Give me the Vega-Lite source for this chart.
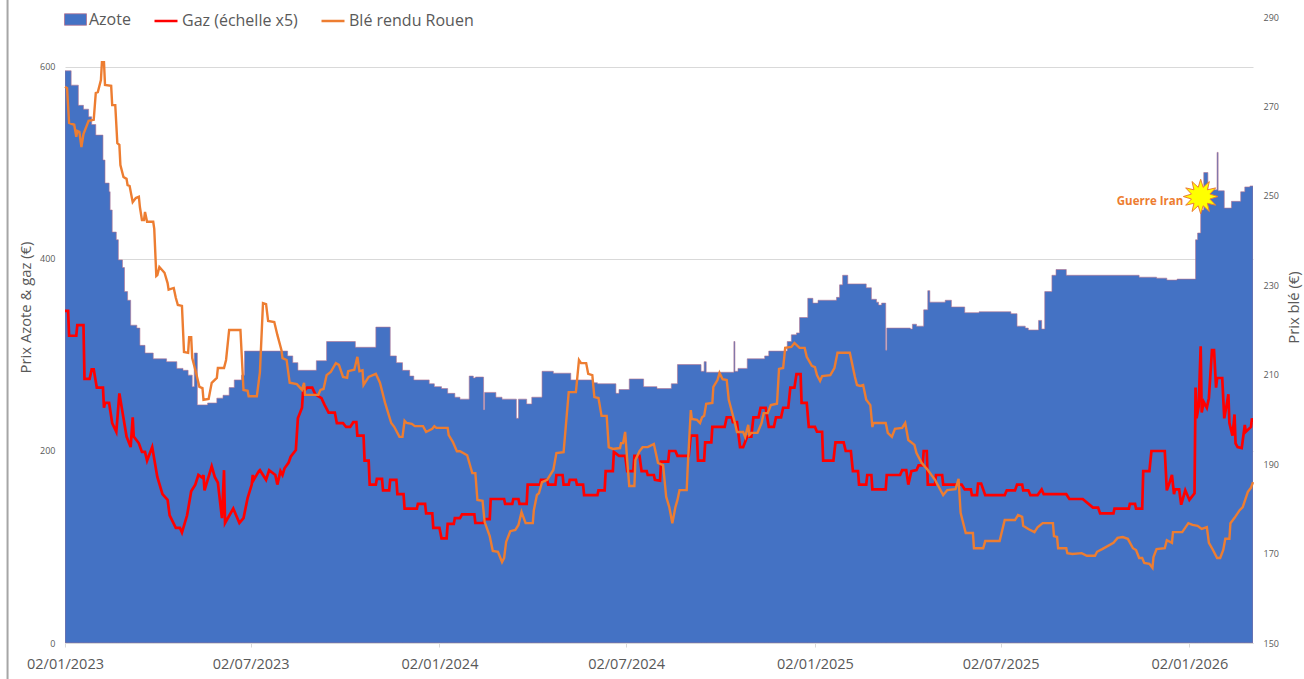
{"$schema":"https://vega.github.io/schema/vega-lite/v6.json","width":1188,"height":626,"autosize":"none","padding":{"left":65,"top":17,"right":51,"bottom":36},"background":"white","config":{"view":{"stroke":null},"font":"Open Sans"},
"datasets":{
"azote":[{"d":"2023-01-02","v":596},{"d":"2023-01-08","v":581},{"d":"2023-01-15","v":560},{"d":"2023-01-20","v":556},{"d":"2023-01-25","v":548},{"d":"2023-01-28","v":540},{"d":"2023-02-01","v":529},{"d":"2023-02-08","v":503},{"d":"2023-02-10","v":479},{"d":"2023-02-14","v":470},{"d":"2023-02-15","v":451},{"d":"2023-02-17","v":428},{"d":"2023-02-21","v":420},{"d":"2023-02-23","v":399},{"d":"2023-02-27","v":391},{"d":"2023-03-01","v":366},{"d":"2023-03-04","v":357},{"d":"2023-03-07","v":331},{"d":"2023-03-13","v":328},{"d":"2023-03-16","v":310},{"d":"2023-03-21","v":302},{"d":"2023-03-29","v":296},{"d":"2023-04-11","v":293},{"d":"2023-04-21","v":286},{"d":"2023-04-27","v":284},{"d":"2023-05-02","v":279},{"d":"2023-05-06","v":267},{"d":"2023-05-08","v":302},{"d":"2023-05-11","v":248},{"d":"2023-05-21","v":250},{"d":"2023-05-30","v":255},{"d":"2023-06-05","v":258},{"d":"2023-06-11","v":266},{"d":"2023-06-16","v":274},{"d":"2023-06-23","v":279},{"d":"2023-06-26","v":304},{"d":"2023-08-07","v":299},{"d":"2023-08-12","v":292},{"d":"2023-08-17","v":284},{"d":"2023-09-04","v":294},{"d":"2023-09-14","v":314},{"d":"2023-10-12","v":308},{"d":"2023-11-01","v":329},{"d":"2023-11-15","v":299},{"d":"2023-11-21","v":292},{"d":"2023-11-27","v":284},{"d":"2023-12-04","v":278},{"d":"2023-12-08","v":274},{"d":"2023-12-23","v":270},{"d":"2023-12-28","v":267},{"d":"2024-01-04","v":265},{"d":"2024-01-10","v":260},{"d":"2024-01-17","v":256},{"d":"2024-01-22","v":254},{"d":"2024-01-31","v":278},{"d":"2024-02-04","v":276},{"d":"2024-02-06","v":277},{"d":"2024-02-14","v":243},{"d":"2024-02-15","v":261},{"d":"2024-02-26","v":256},{"d":"2024-03-03","v":254},{"d":"2024-03-17","v":234},{"d":"2024-03-19","v":254},{"d":"2024-03-27","v":249},{"d":"2024-04-01","v":256},{"d":"2024-04-11","v":283},{"d":"2024-04-22","v":281},{"d":"2024-05-09","v":274},{"d":"2024-05-31","v":271},{"d":"2024-06-04","v":270},{"d":"2024-06-22","v":260},{"d":"2024-06-25","v":264},{"d":"2024-07-05","v":275},{"d":"2024-07-19","v":267},{"d":"2024-08-01","v":265},{"d":"2024-08-15","v":270},{"d":"2024-08-21","v":290},{"d":"2024-09-13","v":283},{"d":"2024-09-16","v":293},{"d":"2024-09-18","v":282},{"d":"2024-10-15","v":314},{"d":"2024-10-16","v":283},{"d":"2024-10-19","v":286},{"d":"2024-10-28","v":296},{"d":"2024-11-14","v":299},{"d":"2024-11-18","v":304},{"d":"2024-12-06","v":314},{"d":"2024-12-10","v":321},{"d":"2024-12-15","v":323},{"d":"2024-12-18","v":339},{"d":"2024-12-26","v":359},{"d":"2024-12-31","v":354},{"d":"2025-01-05","v":357},{"d":"2025-01-23","v":360},{"d":"2025-01-26","v":373},{"d":"2025-01-29","v":383},{"d":"2025-02-03","v":374},{"d":"2025-02-21","v":370},{"d":"2025-02-26","v":358},{"d":"2025-03-03","v":355},{"d":"2025-03-05","v":352},{"d":"2025-03-08","v":354},{"d":"2025-03-12","v":305},{"d":"2025-03-13","v":328},{"d":"2025-04-05","v":327},{"d":"2025-04-07","v":332},{"d":"2025-04-11","v":330},{"d":"2025-04-18","v":347},{"d":"2025-04-22","v":367},{"d":"2025-04-24","v":355},{"d":"2025-05-09","v":357},{"d":"2025-05-15","v":350},{"d":"2025-05-28","v":344},{"d":"2025-06-11","v":345},{"d":"2025-07-12","v":343},{"d":"2025-07-18","v":330},{"d":"2025-07-26","v":328},{"d":"2025-07-29","v":326},{"d":"2025-08-08","v":336},{"d":"2025-08-11","v":327},{"d":"2025-08-14","v":366},{"d":"2025-08-21","v":383},{"d":"2025-08-25","v":389},{"d":"2025-09-04","v":383},{"d":"2025-11-14","v":381},{"d":"2025-12-01","v":380},{"d":"2025-12-11","v":378},{"d":"2025-12-21","v":379},{"d":"2026-01-08","v":420},{"d":"2026-01-10","v":427},{"d":"2026-01-13","v":451},{"d":"2026-01-16","v":490},{"d":"2026-01-20","v":472},{"d":"2026-01-29","v":511},{"d":"2026-01-30","v":471},{"d":"2026-02-05","v":453},{"d":"2026-02-12","v":460},{"d":"2026-02-21","v":470},{"d":"2026-02-25","v":475},{"d":"2026-03-02","v":476},{"d":"2026-03-05","v":476}],
"gaz":[{"d":"2023-01-02","v":346},{"d":"2023-01-05","v":346},{"d":"2023-01-06","v":320},{"d":"2023-01-13","v":320},{"d":"2023-01-14","v":331},{"d":"2023-01-20","v":331},{"d":"2023-01-21","v":275},{"d":"2023-01-26","v":275},{"d":"2023-01-28","v":285},{"d":"2023-01-30","v":285},{"d":"2023-02-02","v":266},{"d":"2023-02-08","v":266},{"d":"2023-02-09","v":245},{"d":"2023-02-10","v":250},{"d":"2023-02-14","v":250},{"d":"2023-02-17","v":229},{"d":"2023-02-21","v":220},{"d":"2023-02-24","v":260},{"d":"2023-03-03","v":215},{"d":"2023-03-07","v":204},{"d":"2023-03-09","v":235},{"d":"2023-03-10","v":215},{"d":"2023-03-15","v":208},{"d":"2023-03-18","v":199},{"d":"2023-03-21","v":199},{"d":"2023-03-23","v":190},{"d":"2023-03-28","v":204},{"d":"2023-04-02","v":173},{"d":"2023-04-07","v":155},{"d":"2023-04-12","v":149},{"d":"2023-04-14","v":133},{"d":"2023-04-20","v":120},{"d":"2023-04-24","v":120},{"d":"2023-04-26","v":115},{"d":"2023-05-01","v":133},{"d":"2023-05-05","v":158},{"d":"2023-05-09","v":165},{"d":"2023-05-12","v":175},{"d":"2023-05-16","v":172},{"d":"2023-05-17","v":175},{"d":"2023-05-18","v":159},{"d":"2023-05-25","v":184},{"d":"2023-05-28","v":173},{"d":"2023-05-31","v":167},{"d":"2023-06-04","v":130},{"d":"2023-06-06","v":180},{"d":"2023-06-07","v":125},{"d":"2023-06-15","v":140},{"d":"2023-06-21","v":125},{"d":"2023-06-25","v":130},{"d":"2023-06-29","v":151},{"d":"2023-07-03","v":165},{"d":"2023-07-04","v":175},{"d":"2023-07-05","v":170},{"d":"2023-07-10","v":179},{"d":"2023-07-11","v":180},{"d":"2023-07-17","v":170},{"d":"2023-07-20","v":180},{"d":"2023-07-26","v":175},{"d":"2023-07-28","v":165},{"d":"2023-07-31","v":179},{"d":"2023-08-02","v":175},{"d":"2023-08-04","v":182},{"d":"2023-08-08","v":188},{"d":"2023-08-10","v":194},{"d":"2023-08-15","v":201},{"d":"2023-08-17","v":234},{"d":"2023-08-21","v":245},{"d":"2023-08-22","v":261},{"d":"2023-08-26","v":266},{"d":"2023-08-31","v":266},{"d":"2023-09-03","v":259},{"d":"2023-09-09","v":255},{"d":"2023-09-12","v":248},{"d":"2023-09-16","v":240},{"d":"2023-09-22","v":240},{"d":"2023-09-24","v":229},{"d":"2023-09-30","v":229},{"d":"2023-10-03","v":225},{"d":"2023-10-07","v":225},{"d":"2023-10-10","v":230},{"d":"2023-10-13","v":230},{"d":"2023-10-14","v":216},{"d":"2023-10-20","v":216},{"d":"2023-10-21","v":190},{"d":"2023-10-25","v":190},{"d":"2023-10-26","v":165},{"d":"2023-11-01","v":165},{"d":"2023-11-02","v":171},{"d":"2023-11-07","v":171},{"d":"2023-11-08","v":159},{"d":"2023-11-14","v":159},{"d":"2023-11-15","v":170},{"d":"2023-11-21","v":170},{"d":"2023-11-22","v":155},{"d":"2023-11-28","v":155},{"d":"2023-11-29","v":140},{"d":"2023-12-11","v":140},{"d":"2023-12-12","v":145},{"d":"2023-12-19","v":145},{"d":"2023-12-20","v":135},{"d":"2023-12-26","v":135},{"d":"2023-12-27","v":120},{"d":"2024-01-02","v":120},{"d":"2024-01-04","v":109},{"d":"2024-01-09","v":109},{"d":"2024-01-10","v":124},{"d":"2024-01-16","v":124},{"d":"2024-01-17","v":130},{"d":"2024-01-22","v":130},{"d":"2024-01-24","v":134},{"d":"2024-02-05","v":134},{"d":"2024-02-06","v":125},{"d":"2024-02-14","v":125},{"d":"2024-02-15","v":129},{"d":"2024-02-20","v":129},{"d":"2024-02-21","v":150},{"d":"2024-03-05","v":150},{"d":"2024-03-06","v":145},{"d":"2024-03-13","v":145},{"d":"2024-03-14","v":150},{"d":"2024-03-19","v":150},{"d":"2024-03-20","v":145},{"d":"2024-03-27","v":145},{"d":"2024-03-28","v":165},{"d":"2024-04-09","v":165},{"d":"2024-04-10","v":170},{"d":"2024-04-16","v":170},{"d":"2024-04-17","v":165},{"d":"2024-04-24","v":165},{"d":"2024-04-25","v":175},{"d":"2024-05-01","v":175},{"d":"2024-05-02","v":165},{"d":"2024-05-07","v":165},{"d":"2024-05-08","v":170},{"d":"2024-05-14","v":170},{"d":"2024-05-15","v":165},{"d":"2024-05-21","v":165},{"d":"2024-05-22","v":154},{"d":"2024-06-04","v":154},{"d":"2024-06-05","v":159},{"d":"2024-06-11","v":159},{"d":"2024-06-12","v":179},{"d":"2024-06-19","v":179},{"d":"2024-06-20","v":199},{"d":"2024-06-25","v":195},{"d":"2024-07-01","v":195},{"d":"2024-07-03","v":179},{"d":"2024-07-09","v":179},{"d":"2024-07-10","v":195},{"d":"2024-07-15","v":195},{"d":"2024-07-17","v":179},{"d":"2024-07-22","v":179},{"d":"2024-07-23","v":175},{"d":"2024-07-29","v":175},{"d":"2024-07-30","v":170},{"d":"2024-08-04","v":169},{"d":"2024-08-05","v":189},{"d":"2024-08-12","v":189},{"d":"2024-08-13","v":200},{"d":"2024-08-19","v":200},{"d":"2024-08-21","v":195},{"d":"2024-09-01","v":195},{"d":"2024-09-03","v":216},{"d":"2024-09-09","v":216},{"d":"2024-09-10","v":190},{"d":"2024-09-16","v":190},{"d":"2024-09-17","v":209},{"d":"2024-09-23","v":209},{"d":"2024-09-24","v":225},{"d":"2024-10-06","v":225},{"d":"2024-10-08","v":235},{"d":"2024-10-13","v":235},{"d":"2024-10-14","v":230},{"d":"2024-10-18","v":230},{"d":"2024-10-21","v":204},{"d":"2024-10-24","v":204},{"d":"2024-10-28","v":215},{"d":"2024-11-01","v":215},{"d":"2024-11-03","v":235},{"d":"2024-11-08","v":235},{"d":"2024-11-10","v":245},{"d":"2024-11-15","v":245},{"d":"2024-11-18","v":225},{"d":"2024-11-23","v":225},{"d":"2024-11-25","v":235},{"d":"2024-11-30","v":235},{"d":"2024-12-02","v":245},{"d":"2024-12-07","v":245},{"d":"2024-12-09","v":266},{"d":"2024-12-13","v":266},{"d":"2024-12-15","v":280},{"d":"2024-12-19","v":280},{"d":"2024-12-20","v":250},{"d":"2024-12-25","v":250},{"d":"2024-12-27","v":225},{"d":"2025-01-02","v":225},{"d":"2025-01-04","v":220},{"d":"2025-01-09","v":220},{"d":"2025-01-10","v":190},{"d":"2025-01-20","v":190},{"d":"2025-01-22","v":209},{"d":"2025-01-30","v":209},{"d":"2025-02-01","v":200},{"d":"2025-02-06","v":200},{"d":"2025-02-08","v":179},{"d":"2025-02-13","v":179},{"d":"2025-02-14","v":165},{"d":"2025-02-21","v":165},{"d":"2025-02-22","v":175},{"d":"2025-02-26","v":175},{"d":"2025-02-27","v":160},{"d":"2025-03-12","v":160},{"d":"2025-03-13","v":175},{"d":"2025-03-26","v":175},{"d":"2025-03-28","v":180},{"d":"2025-04-01","v":180},{"d":"2025-04-03","v":165},{"d":"2025-04-06","v":179},{"d":"2025-04-11","v":180},{"d":"2025-04-13","v":185},{"d":"2025-04-17","v":185},{"d":"2025-04-18","v":200},{"d":"2025-04-21","v":200},{"d":"2025-04-22","v":165},{"d":"2025-04-29","v":165},{"d":"2025-04-30","v":175},{"d":"2025-05-06","v":175},{"d":"2025-05-07","v":165},{"d":"2025-05-25","v":165},{"d":"2025-05-28","v":160},{"d":"2025-06-03","v":160},{"d":"2025-06-04","v":154},{"d":"2025-06-09","v":154},{"d":"2025-06-10","v":166},{"d":"2025-06-13","v":166},{"d":"2025-06-17","v":154},{"d":"2025-07-06","v":154},{"d":"2025-07-08","v":159},{"d":"2025-07-16","v":159},{"d":"2025-07-18","v":165},{"d":"2025-07-23","v":165},{"d":"2025-07-24","v":159},{"d":"2025-07-29","v":159},{"d":"2025-07-31","v":154},{"d":"2025-08-07","v":154},{"d":"2025-08-11","v":160},{"d":"2025-08-13","v":155},{"d":"2025-09-04","v":155},{"d":"2025-09-07","v":150},{"d":"2025-09-20","v":150},{"d":"2025-09-30","v":141},{"d":"2025-10-05","v":141},{"d":"2025-10-07","v":135},{"d":"2025-10-20","v":135},{"d":"2025-10-21","v":140},{"d":"2025-11-04","v":140},{"d":"2025-11-05","v":145},{"d":"2025-11-10","v":145},{"d":"2025-11-11","v":140},{"d":"2025-11-17","v":140},{"d":"2025-11-18","v":179},{"d":"2025-11-24","v":179},{"d":"2025-11-26","v":200},{"d":"2025-12-09","v":200},{"d":"2025-12-11","v":159},{"d":"2025-12-13","v":165},{"d":"2025-12-16","v":175},{"d":"2025-12-18","v":155},{"d":"2025-12-19","v":160},{"d":"2025-12-23","v":160},{"d":"2025-12-25","v":144},{"d":"2025-12-29","v":159},{"d":"2026-01-02","v":149},{"d":"2026-01-07","v":156},{"d":"2026-01-08","v":266},{"d":"2026-01-09","v":234},{"d":"2026-01-11","v":246},{"d":"2026-01-13","v":309},{"d":"2026-01-14","v":240},{"d":"2026-01-16","v":251},{"d":"2026-01-19","v":245},{"d":"2026-01-21","v":255},{"d":"2026-01-24","v":305},{"d":"2026-01-26","v":305},{"d":"2026-01-28","v":266},{"d":"2026-01-29","v":276},{"d":"2026-02-03","v":276},{"d":"2026-02-05","v":234},{"d":"2026-02-07","v":246},{"d":"2026-02-09","v":259},{"d":"2026-02-10","v":229},{"d":"2026-02-13","v":216},{"d":"2026-02-15","v":238},{"d":"2026-02-16","v":208},{"d":"2026-02-18","v":204},{"d":"2026-02-22","v":203},{"d":"2026-02-25","v":227},{"d":"2026-02-26","v":220},{"d":"2026-03-03","v":225},{"d":"2026-03-04","v":234},{"d":"2026-03-05","v":230}],
"ble":[{"d":"2023-01-02","v":274.4},{"d":"2023-01-04","v":274.1},{"d":"2023-01-06","v":266.3},{"d":"2023-01-11","v":265.9},{"d":"2023-01-13","v":263.2},{"d":"2023-01-14","v":264.5},{"d":"2023-01-16","v":264.3},{"d":"2023-01-18","v":260.9},{"d":"2023-01-20","v":263.8},{"d":"2023-01-25","v":266.8},{"d":"2023-01-30","v":267},{"d":"2023-02-01","v":273},{"d":"2023-02-03","v":273.2},{"d":"2023-02-06","v":275.9},{"d":"2023-02-07","v":279.9},{"d":"2023-02-09","v":279.9},{"d":"2023-02-10","v":274.8},{"d":"2023-02-16","v":274.6},{"d":"2023-02-17","v":270.3},{"d":"2023-02-20","v":270.3},{"d":"2023-02-22","v":261.8},{"d":"2023-02-24","v":261.4},{"d":"2023-02-25","v":256.9},{"d":"2023-02-28","v":254.2},{"d":"2023-03-03","v":253.8},{"d":"2023-03-04","v":252.4},{"d":"2023-03-06","v":252.2},{"d":"2023-03-09","v":248.6},{"d":"2023-03-12","v":249.5},{"d":"2023-03-15","v":249.8},{"d":"2023-03-16","v":247.5},{"d":"2023-03-18","v":244.6},{"d":"2023-03-20","v":244.6},{"d":"2023-03-21","v":246.4},{"d":"2023-03-23","v":244.2},{"d":"2023-03-29","v":244.2},{"d":"2023-03-30","v":242.6},{"d":"2023-04-01","v":232.1},{"d":"2023-04-02","v":232.3},{"d":"2023-04-04","v":234.1},{"d":"2023-04-09","v":232.8},{"d":"2023-04-12","v":230.5},{"d":"2023-04-13","v":229},{"d":"2023-04-18","v":229.4},{"d":"2023-04-20","v":227.2},{"d":"2023-04-22","v":225.6},{"d":"2023-04-26","v":225.4},{"d":"2023-04-28","v":215.1},{"d":"2023-05-02","v":214.9},{"d":"2023-05-03","v":218.4},{"d":"2023-05-05","v":218.4},{"d":"2023-05-06","v":213.7},{"d":"2023-05-09","v":211.1},{"d":"2023-05-13","v":207.3},{"d":"2023-05-16","v":207},{"d":"2023-05-17","v":204.4},{"d":"2023-05-22","v":204.6},{"d":"2023-05-25","v":208.2},{"d":"2023-05-30","v":209.3},{"d":"2023-05-31","v":211.5},{"d":"2023-06-06","v":211.5},{"d":"2023-06-08","v":213.3},{"d":"2023-06-11","v":220},{"d":"2023-06-22","v":220},{"d":"2023-06-25","v":206.6},{"d":"2023-06-29","v":206.4},{"d":"2023-06-30","v":205.2},{"d":"2023-07-08","v":205.2},{"d":"2023-07-11","v":210.6},{"d":"2023-07-14","v":226},{"d":"2023-07-17","v":225.8},{"d":"2023-07-19","v":222},{"d":"2023-07-25","v":221.8},{"d":"2023-07-28","v":218.9},{"d":"2023-08-01","v":215.5},{"d":"2023-08-02","v":213.7},{"d":"2023-08-06","v":213.3},{"d":"2023-08-09","v":208.2},{"d":"2023-08-16","v":207.9},{"d":"2023-08-21","v":206.6},{"d":"2023-08-23","v":208.2},{"d":"2023-08-24","v":205.5},{"d":"2023-09-06","v":205.5},{"d":"2023-09-08","v":206.6},{"d":"2023-09-11","v":206.8},{"d":"2023-09-14","v":209.9},{"d":"2023-09-18","v":210.6},{"d":"2023-09-23","v":212.6},{"d":"2023-09-26","v":212.2},{"d":"2023-09-30","v":209.5},{"d":"2023-10-04","v":209.3},{"d":"2023-10-05","v":210.8},{"d":"2023-10-11","v":211.1},{"d":"2023-10-14","v":214},{"d":"2023-10-16","v":210.8},{"d":"2023-10-19","v":211},{"d":"2023-10-20","v":207.7},{"d":"2023-10-25","v":209.5},{"d":"2023-11-01","v":210.2},{"d":"2023-11-05","v":208.2},{"d":"2023-11-10","v":203.7},{"d":"2023-11-16","v":199.2},{"d":"2023-11-19","v":198.3},{"d":"2023-11-24","v":196.1},{"d":"2023-11-27","v":196.1},{"d":"2023-11-29","v":199.7},{"d":"2023-12-01","v":199.2},{"d":"2023-12-06","v":199},{"d":"2023-12-09","v":198.5},{"d":"2023-12-17","v":198.5},{"d":"2023-12-20","v":197.2},{"d":"2023-12-26","v":197.9},{"d":"2023-12-28","v":198.5},{"d":"2023-12-30","v":198.1},{"d":"2024-01-10","v":198.1},{"d":"2024-01-11","v":196.5},{"d":"2024-01-15","v":195},{"d":"2024-01-19","v":192.9},{"d":"2024-01-22","v":192.9},{"d":"2024-01-29","v":192},{"d":"2024-02-03","v":188},{"d":"2024-02-06","v":188},{"d":"2024-02-08","v":182},{"d":"2024-02-13","v":181.8},{"d":"2024-02-15","v":177.1},{"d":"2024-02-20","v":173.9},{"d":"2024-02-23","v":170.6},{"d":"2024-02-28","v":170.4},{"d":"2024-03-03","v":168.1},{"d":"2024-03-05","v":169},{"d":"2024-03-07","v":172.6},{"d":"2024-03-11","v":175},{"d":"2024-03-16","v":175.3},{"d":"2024-03-19","v":176.4},{"d":"2024-03-22","v":179.3},{"d":"2024-03-26","v":176.8},{"d":"2024-04-02","v":176.8},{"d":"2024-04-03","v":179.7},{"d":"2024-04-06","v":183.1},{"d":"2024-04-08","v":183.5},{"d":"2024-04-11","v":186},{"d":"2024-04-16","v":186.5},{"d":"2024-04-22","v":188.7},{"d":"2024-04-25","v":192.5},{"d":"2024-05-02","v":192.7},{"d":"2024-05-07","v":206.1},{"d":"2024-05-14","v":206.1},{"d":"2024-05-17","v":213.3},{"d":"2024-05-19","v":212.6},{"d":"2024-05-24","v":212.6},{"d":"2024-05-26","v":210.2},{"d":"2024-05-30","v":209.9},{"d":"2024-06-01","v":205},{"d":"2024-06-05","v":204.8},{"d":"2024-06-08","v":200.8},{"d":"2024-06-13","v":200.8},{"d":"2024-06-15","v":193.8},{"d":"2024-06-19","v":193.4},{"d":"2024-06-26","v":193.6},{"d":"2024-06-27","v":194.7},{"d":"2024-06-29","v":194.7},{"d":"2024-07-01","v":197.2},{"d":"2024-07-03","v":190.9},{"d":"2024-07-05","v":185.1},{"d":"2024-07-10","v":185.1},{"d":"2024-07-11","v":190.9},{"d":"2024-07-15","v":192.9},{"d":"2024-07-18","v":193.8},{"d":"2024-07-23","v":193.8},{"d":"2024-07-29","v":194.5},{"d":"2024-08-02","v":190.3},{"d":"2024-08-07","v":189.8},{"d":"2024-08-10","v":182.7},{"d":"2024-08-13","v":180.4},{"d":"2024-08-16","v":176.8},{"d":"2024-08-19","v":180.4},{"d":"2024-08-21","v":182},{"d":"2024-08-23","v":184.2},{"d":"2024-08-30","v":184.2},{"d":"2024-08-31","v":189.4},{"d":"2024-09-03","v":202.1},{"d":"2024-09-04","v":200.1},{"d":"2024-09-09","v":199.9},{"d":"2024-09-12","v":199.2},{"d":"2024-09-14","v":200.5},{"d":"2024-09-16","v":200.8},{"d":"2024-09-18","v":203.5},{"d":"2024-09-24","v":203.7},{"d":"2024-09-25","v":207.3},{"d":"2024-09-29","v":208.8},{"d":"2024-10-01","v":210.4},{"d":"2024-10-04","v":209},{"d":"2024-10-08","v":208.8},{"d":"2024-10-10","v":204.4},{"d":"2024-10-16","v":199.2},{"d":"2024-10-18","v":197.2},{"d":"2024-10-24","v":197.2},{"d":"2024-10-26","v":196.1},{"d":"2024-10-29","v":198.8},{"d":"2024-10-30","v":196.5},{"d":"2024-11-01","v":197},{"d":"2024-11-07","v":197},{"d":"2024-11-11","v":199.2},{"d":"2024-11-13","v":201.4},{"d":"2024-11-17","v":201.4},{"d":"2024-11-20","v":203.2},{"d":"2024-11-26","v":203.5},{"d":"2024-11-28","v":211.3},{"d":"2024-12-02","v":211.5},{"d":"2024-12-04","v":216},{"d":"2024-12-10","v":216.2},{"d":"2024-12-13","v":217.1},{"d":"2024-12-18","v":216},{"d":"2024-12-23","v":216},{"d":"2024-12-25","v":214},{"d":"2024-12-30","v":212},{"d":"2025-01-02","v":211.7},{"d":"2025-01-04","v":209.9},{"d":"2025-01-07","v":208.6},{"d":"2025-01-09","v":209.7},{"d":"2025-01-17","v":209.9},{"d":"2025-01-21","v":211.5},{"d":"2025-01-24","v":214.9},{"d":"2025-02-05","v":214.9},{"d":"2025-02-10","v":209.5},{"d":"2025-02-12","v":207.7},{"d":"2025-02-15","v":207.5},{"d":"2025-02-18","v":207.7},{"d":"2025-02-21","v":204.4},{"d":"2025-02-25","v":203.2},{"d":"2025-02-27","v":198.3},{"d":"2025-02-28","v":199.2},{"d":"2025-03-12","v":199.2},{"d":"2025-03-14","v":197},{"d":"2025-03-18","v":196.1},{"d":"2025-03-21","v":197.9},{"d":"2025-03-28","v":198.1},{"d":"2025-03-31","v":199.2},{"d":"2025-04-03","v":195.4},{"d":"2025-04-09","v":194.3},{"d":"2025-04-11","v":192.5},{"d":"2025-04-16","v":190.3},{"d":"2025-04-22","v":188.7},{"d":"2025-04-29","v":186.5},{"d":"2025-05-07","v":183.1},{"d":"2025-05-11","v":184.2},{"d":"2025-05-19","v":184.4},{"d":"2025-05-22","v":186.7},{"d":"2025-05-24","v":179.1},{"d":"2025-05-29","v":174.6},{"d":"2025-06-05","v":174.6},{"d":"2025-06-06","v":171.2},{"d":"2025-06-15","v":171.2},{"d":"2025-06-17","v":172.8},{"d":"2025-07-01","v":172.8},{"d":"2025-07-06","v":177.5},{"d":"2025-07-16","v":177.5},{"d":"2025-07-19","v":178.6},{"d":"2025-07-23","v":178.2},{"d":"2025-07-24","v":176.2},{"d":"2025-07-29","v":175.5},{"d":"2025-08-04","v":174.8},{"d":"2025-08-07","v":175.9},{"d":"2025-08-12","v":176.8},{"d":"2025-08-22","v":176.8},{"d":"2025-08-23","v":173.9},{"d":"2025-08-26","v":173.7},{"d":"2025-08-27","v":171.2},{"d":"2025-09-04","v":171.2},{"d":"2025-09-05","v":170.1},{"d":"2025-09-10","v":169.9},{"d":"2025-09-19","v":170.1},{"d":"2025-09-24","v":169.5},{"d":"2025-10-02","v":169.5},{"d":"2025-10-04","v":170.4},{"d":"2025-10-09","v":171},{"d":"2025-10-20","v":172.4},{"d":"2025-10-24","v":173.5},{"d":"2025-10-29","v":173.7},{"d":"2025-11-03","v":173.3},{"d":"2025-11-08","v":171.2},{"d":"2025-11-11","v":170.8},{"d":"2025-11-14","v":169},{"d":"2025-11-17","v":169},{"d":"2025-11-19","v":167.9},{"d":"2025-11-24","v":167.7},{"d":"2025-11-27","v":166.8},{"d":"2025-11-28","v":169.2},{"d":"2025-12-01","v":171},{"d":"2025-12-09","v":171.2},{"d":"2025-12-11","v":173},{"d":"2025-12-16","v":172.4},{"d":"2025-12-17","v":174.8},{"d":"2025-12-26","v":174.8},{"d":"2026-01-01","v":176.8},{"d":"2026-01-05","v":176.4},{"d":"2026-01-10","v":176.2},{"d":"2026-01-14","v":175.5},{"d":"2026-01-19","v":175.9},{"d":"2026-01-21","v":172.4},{"d":"2026-01-25","v":170.8},{"d":"2026-01-29","v":169},{"d":"2026-02-01","v":169},{"d":"2026-02-04","v":170.8},{"d":"2026-02-06","v":173.3},{"d":"2026-02-10","v":173.3},{"d":"2026-02-11","v":176.8},{"d":"2026-02-15","v":178},{"d":"2026-02-20","v":179.7},{"d":"2026-02-23","v":180.4},{"d":"2026-02-28","v":183.8},{"d":"2026-03-03","v":184.7},{"d":"2026-03-05","v":186}],
"note":[{"d":"2026-01-13","v":465,"t":"Guerre Iran","dt":"2025-12-27","vt":459}],
"bord":[{"d":"2022-11-07","v":670,"v2":-38}]
},
"layer":[
{"data":{"name":"azote"},"mark":{"type":"area","interpolate":"step-after","stroke":"#B4728F","strokeWidth":0.6,"clip":true},"encoding":{
"x":{"field":"d","type":"temporal","scale":{"type":"utc","domain":["2023-01-02","2026-03-05"]},"axis":{"values":["2023-01-02","2023-07-02","2024-01-02","2024-07-02","2025-01-02","2025-07-02","2026-01-02"],"labelExpr":"utcFormat(datum.value,'%d/%m/%Y')","title":null,"grid":false,"domainColor":"#D9D9D9","domainWidth":1,"tickColor":"#D9D9D9","tickSize":4,"labelFontSize":14.5,"labelColor":"#595959","labelFont":"Open Sans","labelPadding":10,"labelFlush":false,"labelOverlap":false}},
"y":{"field":"v","type":"quantitative","scale":{"domain":[0,652],"nice":false},"axis":{"orient":"left","values":[0,200,400,600],"grid":true,"gridColor":"#D9D9D9","gridWidth":1,"domain":false,"ticks":false,"labelFontSize":9,"labelColor":"#595959","labelPadding":10,"title":"Prix Azote & gaz (€)","titleFontSize":14.8,"titleFontWeight":"normal","titleColor":"#595959","titleFont":"Open Sans","titleX":-32,"titleY":290}},
"fill":{"datum":"Azote","type":"nominal","scale":{"domain":["Azote"],"range":["#4472C4"]},"legend":{"title":null,"orient":"none","legendX":-1,"legendY":-9,"padding":0,"direction":"horizontal","symbolType":"M-1,-0.52H1V0.52H-1Z","symbolSize":485,"symbolStrokeColor":"#B4728F","symbolStrokeWidth":0.8,"symbolOpacity":1,"labelFontSize":16,"labelColor":"#595959","labelFont":"Open Sans","labelOffset":2}}
}},
{"data":{"name":"gaz"},"mark":{"type":"line","strokeWidth":2.7,"clip":true},"encoding":{
"x":{"field":"d","type":"temporal"},
"y":{"field":"v","type":"quantitative","scale":{"domain":[0,652],"nice":false},"axis":null},
"stroke":{"datum":"Gaz (échelle x5)","type":"nominal","scale":{"domain":["Gaz (échelle x5)","Blé rendu Rouen"],"range":["#FF0000","#ED7D31"]},"legend":{"title":null,"orient":"none","legendX":88,"legendY":-9,"padding":0,"direction":"horizontal","symbolType":"stroke","symbolSize":529,"symbolStrokeWidth":2.5,"labelFontSize":16,"labelColor":"#595959","labelFont":"Open Sans","labelOffset":3,"columnPadding":18}}
}},
{"data":{"name":"ble"},"mark":{"type":"line","strokeWidth":2.4,"clip":false},"encoding":{
"x":{"field":"d","type":"temporal"},
"y":{"field":"v","type":"quantitative","scale":{"domain":[150,290],"nice":false},"axis":{"orient":"right","values":[150,170,190,210,230,250,270,290],"grid":false,"domain":false,"ticks":false,"labelFontSize":9,"labelColor":"#595959","labelPadding":10,"title":"Prix blé (€)","titleFontSize":14.8,"titleFontWeight":"normal","titleColor":"#595959","titleFont":"Open Sans","titleAngle":270,"titleBaseline":"bottom","titleX":48,"titleY":290}},
"stroke":{"datum":"Blé rendu Rouen","type":"nominal"}
}},
{"data":{"name":"note"},"mark":{"type":"point","shape":"M1,0L.531,.142L.866,.5L.389,.389L.5,.866L.142,.531L0,1L-.142,.531L-.5,.866L-.389,.389L-.866,.5L-.531,.142L-1,0L-.531,-.142L-.866,-.5L-.389,-.389L-.5,-.866L-.142,-.531L0,-1L.142,-.531L.5,-.866L.389,-.389L.866,-.5L.531,-.142Z","filled":true,"fill":"#FFFF00","stroke":"#ED7D31","strokeWidth":1,"size":1200,"opacity":1},"encoding":{
"x":{"field":"d","type":"temporal"},
"y":{"field":"v","type":"quantitative","scale":{"domain":[0,652],"nice":false},"axis":null}
}},
{"data":{"name":"note"},"mark":{"type":"text","align":"right","baseline":"middle","font":"Open Sans","fontWeight":"bold","fontSize":11.5,"color":"#ED7D31"},"encoding":{
"x":{"field":"dt","type":"temporal"},
"y":{"field":"vt","type":"quantitative","scale":{"domain":[0,652],"nice":false},"axis":null},
"text":{"field":"t"}
}},
{"data":{"name":"bord"},"mark":{"type":"rule","color":"#A6A6A6","strokeWidth":2,"clip":false},"encoding":{
"x":{"field":"d","type":"temporal"},
"y":{"field":"v","type":"quantitative","scale":{"domain":[0,652],"nice":false},"axis":null},
"y2":{"field":"v2"}
}}
],
"resolve":{"scale":{"y":"independent"},"axis":{"y":"independent"}}}
